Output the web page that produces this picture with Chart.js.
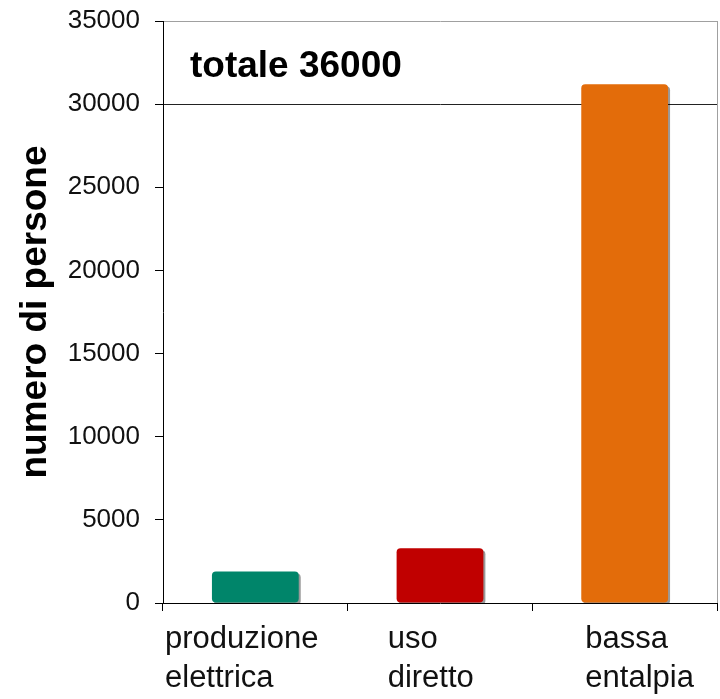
<!DOCTYPE html>
<html lang="it">
<head>
<meta charset="utf-8">
<title>numero di persone</title>
<script src="https://cdn.jsdelivr.net/npm/chart.js@4.4.1/dist/chart.umd.min.js"></script>
<style>
  html, body { margin: 0; padding: 0; background: #fff; }
  canvas { display: block; }
</style>
</head>
<body>
<canvas id="myChart" width="720" height="699"></canvas>
<script>
// categories (two-line labels) and people per category
const categories = [["produzione", "elettrica"], ["uso", "diretto"], ["bassa", "entalpia"]];
const persone = [1900, 3300, 31200];
const barColors = ["#00856a", "#c00000", "#e36c0a"];
const yTicks = [0, 5000, 10000, 15000, 20000, 25000, 30000, 35000];
const totalLabel = "totale 36000";
const axisTitle = "numero di persone";

const FONT = '"Liberation Sans", Arial, Helvetica, sans-serif';
Chart.defaults.font.family = FONT;

// small drop shadow under the bars
const barShadow = {
  id: "barShadow",
  beforeDatasetsDraw(chart) {
    const c = chart.ctx;
    c.save();
    c.shadowColor = "rgba(0,0,0,0.4)";
    c.shadowOffsetX = 2;
    c.shadowOffsetY = 2;
    c.shadowBlur = 0;
  },
  afterDatasetsDraw(chart) {
    chart.ctx.restore();
  },
};

// total note inside the plot and left-aligned category labels under the axis
const labelInsets = [2, 40, 53];
const overlayText = {
  id: "overlayText",
  afterDraw(chart) {
    const { ctx, chartArea, scales } = chart;
    const x = scales.x;
    const step = x.width / categories.length;
    ctx.save();
    ctx.fillStyle = "#000";
    ctx.textAlign = "left";
    ctx.textBaseline = "alphabetic";
    ctx.font = "bold 37px " + FONT;
    ctx.fillText(totalLabel, chartArea.left + 27, 77);

    ctx.fillStyle = "#111";
    ctx.font = "31px " + FONT;
    categories.forEach((lines, i) => {
      const left = x.getPixelForValue(i) - step / 2 + labelInsets[i];
      lines.forEach((t, j) => {
        ctx.fillText(t, left, chartArea.bottom + 45 + j * 39);
      });
    });
    ctx.restore();
  },
};

const ctx = document.getElementById("myChart").getContext("2d");
new Chart(ctx, {
  type: "bar",
  data: {
    labels: categories.map((l) => l.join(" ")),
    datasets: [
      {
        data: persone,
        backgroundColor: barColors,
        borderRadius: 4,
        borderSkipped: false,
        barPercentage: 0.47,
        categoryPercentage: 1,
      },
    ],
  },
  options: {
    responsive: false,
    animation: false,
    layout: { padding: { top: 21, right: 3, bottom: 0, left: 0 } },
    plugins: {
      legend: { display: false },
      tooltip: { enabled: false },
    },
    scales: {
      x: {
        afterFit(scale) {
          scale.height = 96;
        },
        ticks: { display: false },
        grid: {
          offset: true,
          color: (c) => (c.tick ? "rgba(0,0,0,0)" : "#a0a0a0"),
          tickColor: "#000",
          tickLength: 8,
        },
        border: { color: "#000" },
      },
      y: {
        min: 0,
        max: 35000,
        afterFit(scale) {
          scale.width = 163;
          scale.paddingTop = 0;
          scale.paddingBottom = 0;
        },
        afterBuildTicks(scale) {
          scale.ticks = yTicks.map((v) => ({ value: v }));
        },
        ticks: {
          color: "#111",
          font: { size: 26 },
          padding: 15,
          callback: (v) => String(v),
        },
        grid: {
          color: (c) => {
            if (!c.tick) return "rgba(0,0,0,0)";
            if (c.tick.value === 30000) return "#222";
            if (c.tick.value === 35000) return "#a0a0a0";
            return "rgba(0,0,0,0)";
          },
          tickColor: "#000",
          tickLength: 8,
        },
        border: { color: "#000" },
        title: {
          display: true,
          text: axisTitle,
          color: "#000",
          font: { size: 37, weight: "bold" },
          padding: { top: 14, bottom: 0 },
        },
      },
    },
  },
  plugins: [barShadow, overlayText],
});
</script>
</body>
</html>
